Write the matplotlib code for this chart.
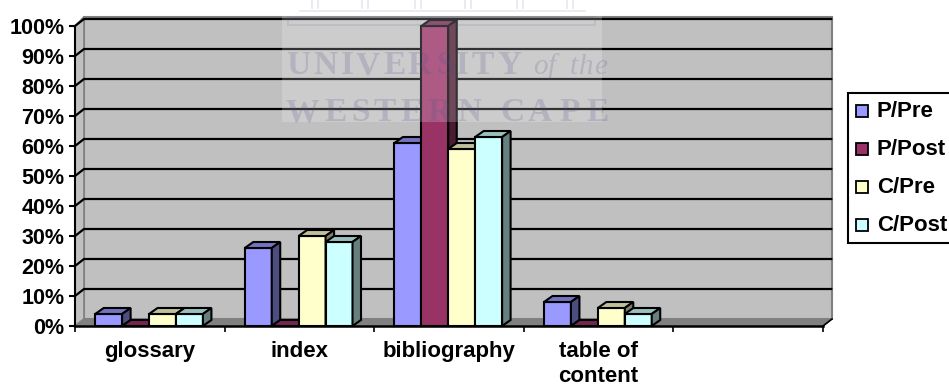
import matplotlib
matplotlib.use("Agg")
import matplotlib.pyplot as plt
from matplotlib.patches import Polygon, Rectangle
from matplotlib.textpath import TextPath
from matplotlib.font_manager import FontProperties

categories = ["glossary", "index", "bibliography", "table of\ncontent", ""]
series_names = ["P/Pre", "P/Post", "C/Pre", "C/Post"]
p_pre = [4, 26, 61, 8, None]
p_post = [0, 0, 100, 0, None]
c_pre = [4, 30, 59, 6, None]
c_post = [4, 28, 63, 4, None]
y_ticks = [0, 10, 20, 30, 40, 50, 60, 70, 80, 90, 100]

front_colors = ["#9999ff", "#993366", "#ffffcc", "#ccffff"]
top_colors = ["#7373bf", "#732650", "#bfbf99", "#99bfbf"]
side_colors = ["#4d4d80", "#4d1a33", "#808066", "#668080"]

plt.rcParams["font.family"] = ["Liberation Sans", "DejaVu Sans"]
plt.rcParams["font.weight"] = "bold"

W, H = 949, 389
fig = plt.figure(figsize=(W / 100, H / 100), dpi=100)
ax = fig.add_axes([75 / W, (H - 326) / H, 748 / W, 300 / H])
ax.set_xlim(0, 5)
ax.set_ylim(0, 100)
ax.patch.set_visible(False)

# depth of the fake 3d box, in data units
wall_dx = 9 / 149.6
wall_dy = 7 / 3.0
bar_dx = 8.5 / 149.6
bar_dy = 6 / 3.0
bar_w = 0.18

# walls and floor
top = 100 + wall_dy + 0.7
ax.add_patch(Polygon([(wall_dx, wall_dy), (5 + wall_dx, wall_dy), (5 + wall_dx, top), (wall_dx, top)],
                     fc="#c0c0c0", ec="#808080", lw=1.5, clip_on=False, zorder=1))
ax.add_patch(Polygon([(0, 0), (wall_dx, wall_dy), (wall_dx, top), (0, 100)],
                     fc="#c0c0c0", ec="#808080", lw=1.2, clip_on=False, zorder=1))
ax.add_patch(Polygon([(0, 0), (wall_dx, wall_dy), (5 + wall_dx, wall_dy), (5, 0)],
                     fc="#808080", ec="#808080", lw=1, clip_on=False, zorder=1))

# gridlines go along the back wall and down the left wall
for v in y_ticks[1:]:
    ax.plot([0, wall_dx, 5 + wall_dx - 0.005], [v, v + wall_dy, v + wall_dy], color="black", lw=1.6,
            clip_on=False, zorder=2, solid_joinstyle="miter")
ax.plot([5, 5 + wall_dx], [0, wall_dy], color="black", lw=1.2, clip_on=False, zorder=2)

all_series = [p_pre, p_post, c_pre, c_post]
start = 0.135
order = 3
for i in range(4):
    for c in range(5):
        v = all_series[i][c]
        if v is None:
            continue
        x0 = c + start + i * bar_w
        x1 = x0 + bar_w
        ax.bar(x0, v, width=bar_w, align="edge", color=front_colors[i], edgecolor="black", lw=1.5,
               clip_on=False, zorder=order)
        ax.add_patch(Polygon([(x0, v), (x0 + bar_dx, v + bar_dy), (x1 + bar_dx, v + bar_dy), (x1, v)],
                             fc=top_colors[i], ec="black", lw=1.5, clip_on=False, zorder=order))
        ax.add_patch(Polygon([(x1, 0), (x1 + bar_dx, bar_dy), (x1 + bar_dx, v + bar_dy), (x1, v)],
                             fc=side_colors[i], ec="black", lw=1.5, clip_on=False, zorder=order))
    order += 1

for s in ["top", "right"]:
    ax.spines[s].set_visible(False)
ax.spines["left"].set_linewidth(1.5)
ax.spines["bottom"].set_linewidth(1.8)
ax.spines["left"].set_zorder(10)
ax.spines["bottom"].set_zorder(10)

ax.set_yticks(y_ticks)
ax.set_yticklabels(["{}%".format(v) for v in y_ticks], fontsize=15.5, fontweight="bold")
ax.tick_params(axis="y", length=4.5, width=1.5, pad=3)
ax.set_xticks(range(6))
ax.set_xticklabels([])
ax.tick_params(axis="x", which="major", length=4.5, width=1.2)
ax.set_xticks([c + 0.5 for c in range(5)], minor=True)
ax.set_xticklabels(categories, minor=True, fontsize=16, fontweight="bold", linespacing=1.22)
ax.tick_params(axis="x", which="minor", length=0, pad=11)

# overlay in pixel coords for legend and the scanned watermark
ov = fig.add_axes([0, 0, 1, 1], zorder=5)
ov.set_xlim(0, W)
ov.set_ylim(H, 0)
ov.axis("off")

ov.add_patch(Rectangle((848, 93), 103, 150, fc="white", ec="black", lw=1.5, clip_on=False))
for i, name in enumerate(series_names):
    yy = 111 + i * 38
    ov.add_patch(Rectangle((856.5, yy - 6), 12, 12, fc=front_colors[i], ec="black", lw=1.3))
    ov.text(877, yy, name, fontsize=16, fontweight="bold", va="center", ha="left", color="black")

ov.add_patch(Rectangle((282, 0), 320, 122, fc="white", ec="none", alpha=0.2))


def spaced(text, x, y, size, gap, style="normal", space=14):
    fp = FontProperties(family="Liberation Serif", size=size, style=style)
    for ch in text:
        if ch == " ":
            x += space
            continue
        ov.text(x, y, ch, fontproperties=fp, fontweight="bold" if style == "normal" else "normal",
                color="#50508c", alpha=0.2, va="baseline", ha="left")
        x += TextPath((0, 0), ch, size=size * 100 / 72, prop=fp).get_extents().width + gap


spaced("UNIVERSITY", 286, 74, 24, 4.5)
spaced("of the", 533, 74, 21, 1.5, style="italic", space=8)
spaced("WESTERN", 286, 121, 24, 6.5)
spaced("CAPE", 500, 121, 24, 8.0)

# building outline on top of the crest
wm = "#50508c"
ov.plot([288, 595, 595, 288, 288], [25, 25, 17, 17, 25], color=wm, lw=1.3, alpha=0.13)
ov.plot([300, 585], [11, 11], color=wm, lw=1.3, alpha=0.13)
for cx in [315, 365, 418, 468, 520, 570]:
    ov.plot([cx - 3, cx - 3], [0, 8], color=wm, lw=1.3, alpha=0.13)
    ov.plot([cx + 3, cx + 3], [0, 8], color=wm, lw=1.3, alpha=0.13)

fig.savefig("out.png", dpi=100)
